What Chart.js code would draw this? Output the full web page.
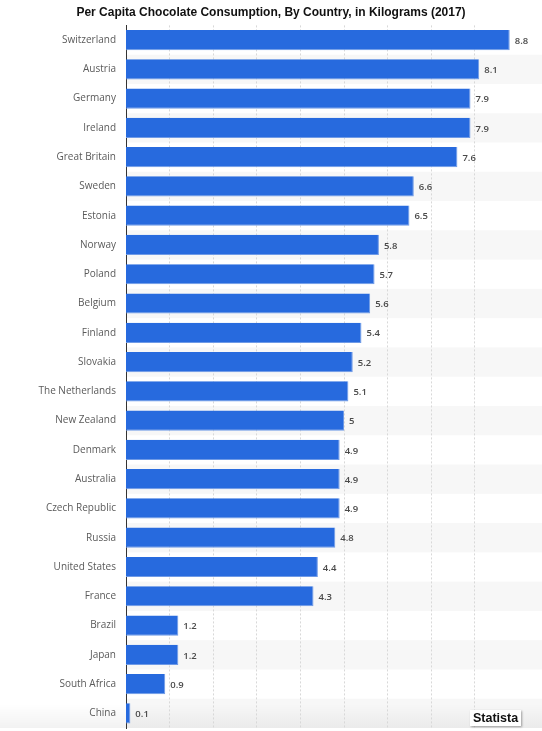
<!DOCTYPE html>
<html>
<head>
<meta charset="utf-8">
<script src="https://cdn.jsdelivr.net/npm/chart.js@4/dist/chart.umd.min.js"></script>
<style>
    html, body { margin: 0; padding: 0; background: #fff; }
    #wrap { position: relative; width: 542px; height: 731px; }
    #box { position: absolute; left: 0; top: 0; width: 542px; height: 731px; }
    #brand {
        position: absolute; left: 470px; top: 710px;
        font: bold 12.5px "Liberation Sans", Arial, sans-serif; color: #111;
        background: #fff; padding: 1px 3px;
        box-shadow: 1px 1px 2px rgba(0,0,0,0.35);
    }
</style>
</head>
<body>
<div id="wrap">
    <div id="box"><canvas id="chart"></canvas></div>
    <div id="brand">Statista</div>
</div>
<script>
const countries = ['Switzerland', 'Austria', 'Germany', 'Ireland', 'Great Britain', 'Sweden', 'Estonia', 'Norway',
    'Poland', 'Belgium', 'Finland', 'Slovakia', 'The Netherlands', 'New Zealand', 'Denmark', 'Australia',
    'Czech Republic', 'Russia', 'United States', 'France', 'Brazil', 'Japan', 'South Africa', 'China'];
const kilograms = [8.8, 8.1, 7.9, 7.9, 7.6, 6.6, 6.5, 5.8, 5.7, 5.6, 5.4, 5.2, 5.1, 5, 4.9, 4.9, 4.9, 4.8, 4.4, 4.3, 1.2, 1.2, 0.9, 0.1];
const chartTitle = 'Per Capita Chocolate Consumption, By Country, in Kilograms (2017)';

// striped rows + bottom shade
const background = {
    id: 'background',
    beforeDraw(chart) {
        const { ctx, chartArea, scales: { y } } = chart;
        ctx.save();
        const half = (y.getPixelForValue(1) - y.getPixelForValue(0)) / 2;
        countries.forEach((c, i) => {
            if (i % 2 == 1) {
                const cy = y.getPixelForValue(i);
                ctx.fillStyle = '#f7f7f7';
                ctx.fillRect(chartArea.left, cy - half, chartArea.right - chartArea.left, half * 2);
            }
        });
        const g = ctx.createLinearGradient(0, chartArea.bottom - 24, 0, chartArea.bottom);
        g.addColorStop(0, 'rgba(0,0,0,0)');
        g.addColorStop(1, 'rgba(0,0,0,0.05)');
        ctx.fillStyle = g;
        ctx.fillRect(0, chartArea.bottom - 24, chart.width, 24);
        ctx.restore();
    }
};

const valueLabels = {
    id: 'valueLabels',
    afterDatasetsDraw(chart) {
        const { ctx } = chart;
        const meta = chart.getDatasetMeta(0);
        ctx.save();
        ctx.font = '600 9.5px "Open Sans", sans-serif';
        ctx.fillStyle = '#4a4a4a';
        ctx.textBaseline = 'middle';
        meta.data.forEach((bar, i) => {
            ctx.fillText(String(kilograms[i]), bar.x + 5, bar.y + 1);
        });
        ctx.restore();
    }
};

new Chart(document.getElementById('chart'), {
    type: 'bar',
    data: {
        labels: countries,
        datasets: [{
            data: kilograms,
            backgroundColor: '#276ade',
            borderColor: '#6f9ae6',
            borderWidth: { right: 1, bottom: 1, top: 0, left: 0 },
            borderSkipped: 'left',
            barPercentage: 0.69,
            categoryPercentage: 1
        }]
    },
    options: {
        indexAxis: 'y',
        responsive: true,
        maintainAspectRatio: false,
        animation: false,
        layout: { padding: { left: 0, right: 0, top: 0, bottom: 3 } },
        plugins: {
            legend: { display: false },
            tooltip: { enabled: false },
            title: {
                display: true,
                text: chartTitle,
                color: '#111',
                font: { family: '"Liberation Sans", Arial, sans-serif', size: 12, weight: 'bold' },
                padding: { top: 5, bottom: 6 }
            }
        },
        scales: {
            x: {
                min: 0,
                max: 9.54,
                ticks: { display: false, stepSize: 1 },
                afterBuildTicks: axis => { axis.ticks = axis.ticks.filter(t => Number.isInteger(t.value) && t.value > 0); },
                afterFit: scale => { scale.height = 0; },
                grid: { color: '#d8d8d8', drawTicks: false, tickBorderDash: [2, 2] },
                border: { display: false, dash: [2, 2] }
            },
            y: {
                afterFit: scale => { scale.width = 126; scale.paddingTop = 0; scale.paddingBottom = 0; },
                ticks: {
                    autoSkip: false,
                    padding: 10,
                    color: '#5a5a5a',
                    font: { family: '"Open Sans", sans-serif', size: 10 }
                },
                grid: { display: false, drawTicks: false },
                border: { display: true, color: '#333', width: 1 }
            }
        }
    },
    plugins: [background, valueLabels]
});
</script>
</body>
</html>
